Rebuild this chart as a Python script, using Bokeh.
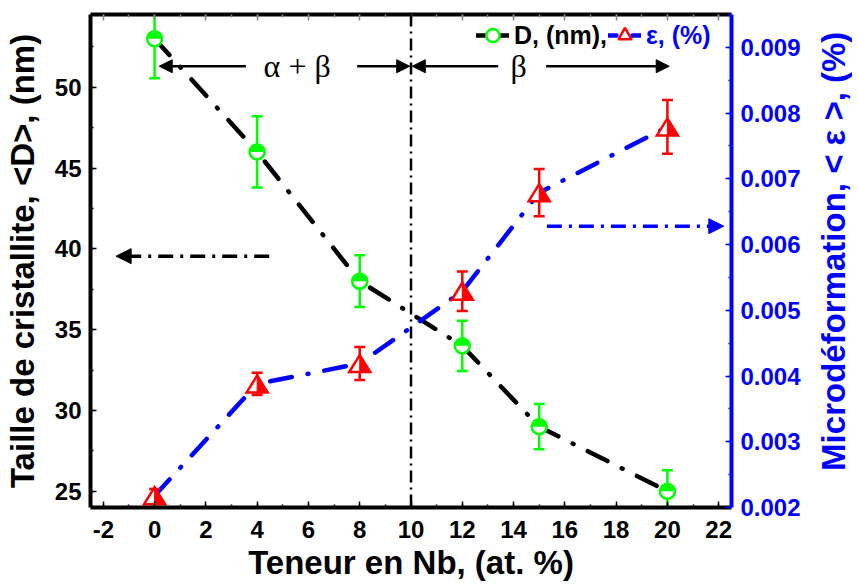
import numpy as np
from bokeh.plotting import figure
from bokeh.layouts import row
from bokeh.models import (Range1d, LinearAxis, FixedTicker, PrintfTickFormatter, Span,
                          Arrow, NormalHead, Label, Legend, LegendItem)
from bokeh.core.properties import value
from bokeh.embed import file_html
from bokeh.resources import INLINE

# ---------------- data ----------------
nb_content = [0, 4, 8, 12, 15, 20]
d_nm = [53.0, 46.0, 38.0, 34.0, 29.0, 25.0]
d_err = [2.45, 2.2, 1.6, 1.55, 1.4, 1.3]
eps_pct = [0.00218, 0.00388, 0.00419, 0.00529, 0.00679, 0.00779]
eps_err = [0.00010, 0.00017, 0.00025, 0.00030, 0.00036, 0.00041]

x_ticks = [-2, 0, 2, 4, 6, 8, 10, 12, 14, 16, 18, 20, 22]
x_minor = list(range(-2, 23))
d_ticks = [25, 30, 35, 40, 45, 50]
d_minor = [25, 27.5, 30, 32.5, 35, 37.5, 40, 42.5, 45, 47.5, 50, 52.5]
eps_ticks = [0.002, 0.003, 0.004, 0.005, 0.006, 0.007, 0.008, 0.009]
eps_minor = [0.002 + 0.0005 * i for i in range(16)]

x_title = "Teneur en Nb, (at. %)"
d_title = "Taille de cristallite, <D>, (nm)"
eps_title = "Microdéformation, < ε >, (%)"

FONT = "Liberation Sans"
GREEN = "#00FF00"
RED = "#FF0000"
BLUE = "#0000FF"

X0, X1 = -2.5, 22.5
Y0, Y1 = 24.0, 54.5
E0, E1 = 0.002, 0.0095
BL, BR, BT, BB = 90, 80, 14, 76
FW, FH = 641, 493
W, H = BL + FW + BR, BT + FH + BB
WR = 41                         # width of the strip holding the right-hand title
PX_X = (X1 - X0) / FW
PX_E = (E1 - E0) / FH

p = figure(width=W, height=H, x_range=Range1d(X0, X1), y_range=Range1d(Y0, Y1),
           output_backend="svg", toolbar_location=None,
           min_border_left=BL, min_border_right=BR, min_border_top=BT, min_border_bottom=BB)
p.extra_y_ranges = {"eps": Range1d(E0, E1)}
p.xgrid.visible = False
p.ygrid.visible = False
p.outline_line_color = None
p.background_fill_color = "white"


def style_axis(ax, color, size="24px"):
    ax.axis_line_width = 4
    ax.axis_line_color = color
    ax.major_tick_in = 6
    ax.major_tick_out = 0
    ax.minor_tick_in = 3
    ax.minor_tick_out = 0
    ax.major_tick_line_color = color
    ax.minor_tick_line_color = color
    ax.major_tick_line_width = 1.5
    ax.minor_tick_line_width = 1.5
    ax.major_label_text_font = FONT
    ax.major_label_text_font_style = "bold"
    ax.major_label_text_font_size = size
    ax.major_label_text_color = color
    ax.axis_label_text_font = FONT
    ax.axis_label_text_font_style = "bold"
    ax.axis_label_text_font_size = "33px"
    ax.axis_label_text_color = color


xa = p.xaxis[0]
style_axis(xa, "black")
xa.ticker = FixedTicker(ticks=x_ticks, minor_ticks=x_minor)
xa.formatter = PrintfTickFormatter(format="%d")
xa.axis_label = x_title
xa.major_label_standoff = 13
xa.axis_label_standoff = 3

ya = p.yaxis[0]
style_axis(ya, "black")
ya.ticker = FixedTicker(ticks=d_ticks, minor_ticks=d_minor)
ya.formatter = PrintfTickFormatter(format="%d")
ya.axis_label = d_title
ya.major_label_standoff = 9
ya.axis_label_standoff = 11

ra = LinearAxis(y_range_name="eps")
style_axis(ra, BLUE)
ra.ticker = FixedTicker(ticks=eps_ticks, minor_ticks=eps_minor)
ra.formatter = PrintfTickFormatter(format="%.3f")
ra.major_label_standoff = 9
p.add_layout(ra, "right")

ta = LinearAxis()
style_axis(ta, "black", size="1px")
ta.ticker = FixedTicker(ticks=x_ticks, minor_ticks=x_minor)
ta.major_label_text_color = None
ta.major_label_standoff = 0
ta.major_tick_line_color = "#888888"
ta.minor_tick_line_color = "#888888"
p.add_layout(ta, "above")

# vertical phase boundary
p.add_layout(Span(location=10, dimension="height", line_color="black", line_width=2.5,
                  line_dash="12 5 2 5"))

# curves
p.line(nb_content, d_nm, line_color="black", line_width=4.5, line_dash="22 16 1 16",
       line_cap="round", line_join="round")
p.line(nb_content, eps_pct, line_color=BLUE, line_width=4.5, line_dash="22 16 1 16",
       line_cap="round", line_join="round", y_range_name="eps")

# error bars
d_lo = [v - e for v, e in zip(d_nm, d_err)]
d_hi = [v + e for v, e in zip(d_nm, d_err)]
e_lo = [v - e for v, e in zip(eps_pct, eps_err)]
e_hi = [v + e for v, e in zip(eps_pct, eps_err)]
p.segment(nb_content, d_lo, nb_content, d_hi, line_color=GREEN, line_width=2.5)
p.scatter(nb_content + nb_content, d_lo + d_hi, marker="dash", size=11, line_color=GREEN, line_width=2.5)
p.segment(nb_content, e_lo, nb_content, e_hi, line_color=RED, line_width=2.5, y_range_name="eps")
p.scatter(nb_content + nb_content, e_lo + e_hi, marker="dash", size=11, line_color=RED, line_width=2.5,
          y_range_name="eps")

# half-filled circles
p.scatter(nb_content, d_nm, marker="circle", size=15, fill_color="white", line_color=GREEN,
          line_width=2.5)
p.wedge(nb_content, d_nm, radius=6.5, radius_units="screen", start_angle=0, end_angle=np.pi,
        fill_color=GREEN, line_color=None)

# half-filled triangles (right half filled)
tw, th = 10.5 * PX_X, 8.5 * PX_E
tri_xs = [[x, x - tw, x + tw] for x in nb_content]
tri_ys = [[y + th, y - th, y - th] for y in eps_pct]
half_xs = [[x, x, x + tw] for x in nb_content]
half_ys = [[y + th, y - th, y - th] for y in eps_pct]
p.patches(tri_xs, tri_ys, fill_color="white", line_color=RED, line_width=2.5,
          line_join="miter", y_range_name="eps")
p.patches(half_xs, half_ys, fill_color=RED, line_color=RED, line_width=1, y_range_name="eps")

# legend-only helpers (not visible in the plot area)
NAN = [float("nan")]
leg_line_d = p.line(NAN, NAN, line_color="black", line_width=4.5, line_dash="8 16", line_cap="round")
leg_circ = p.scatter(NAN, NAN, marker="circle", size=15, fill_color="white", line_color=GREEN,
                     line_width=2.5)
leg_line_e = p.line(NAN, NAN, line_color=BLUE, line_width=4.5, line_dash="8 16", line_cap="round",
                    y_range_name="eps")
leg_tri = p.scatter(NAN, NAN, marker="triangle", size=17, fill_color="white", line_color=RED,
                    line_width=2.5, y_range_name="eps")


def mk_legend(label, rends, loc, color):
    lg = Legend(items=[LegendItem(label=label, renderers=rends)], location=loc,
                orientation="horizontal", glyph_width=33, glyph_height=38, label_standoff=5,
                padding=0, margin=0, border_line_color=None, background_fill_alpha=0,
                label_text_font=FONT, label_text_font_style="bold", label_text_font_size="25px",
                label_text_color=color, label_height=38)
    p.add_layout(lg)


mk_legend("D, (nm),", [leg_line_d, leg_circ], (386, 453), "black")
mk_legend("ε, (%)", [leg_line_e, leg_tri], (518, 453), BLUE)


def arrow(x0, y0, x1, y1, color="black", dash="solid", width=2.5, size=13, rng="default"):
    a = Arrow(end=NormalHead(size=size, fill_color=color, line_color=color, line_width=1),
              x_start=x0, y_start=y0, x_end=x1, y_end=y1, line_color=color, line_width=width,
              line_dash=dash, y_range_name=rng)
    p.add_layout(a)


arrow(3.56, 51.3, 0.18, 51.3)
arrow(7.9, 51.3, 9.95, 51.3)
arrow(13.4, 51.3, 10.05, 51.3)
arrow(15.27, 51.3, 20.07, 51.3)
arrow(4.47, 39.55, -1.5, 39.55, dash="15 7 3 7", width=3.5, size=15)
arrow(15.3, 0.00628, 22.2, 0.00628, color=BLUE, dash="15 7 3 7", width=3.5, size=15, rng="eps")

p.add_layout(Label(x=5.56, y=51.3, text="α + β", text_align="center", text_baseline="middle",
                   text_font="Liberation Serif", text_font_size="32px", text_color="black"))
p.add_layout(Label(x=14.2, y=51.3, text="β", text_align="center", text_baseline="middle",
                   text_font="Liberation Serif", text_font_size="32px", text_color="black"))

# narrow strip to the right carrying the right-axis title (reads bottom to top)
pr = figure(width=WR, height=H, x_range=Range1d(0, WR), y_range=Range1d(0, H),
            output_backend="svg", toolbar_location=None, x_axis_location=None,
            y_axis_location=None, min_border=0)
pr.xgrid.visible = False
pr.ygrid.visible = False
pr.outline_line_color = None
pr.text(x=[WR / 2 + 1], y=[H - 280], text=[eps_title], angle=np.pi / 2, text_align="center",
        text_baseline="middle", text_font=value(FONT), text_font_style="bold",
        text_font_size="33px", text_color=BLUE)

layout = row(p, pr)
open("out.html", "w").write(file_html(layout, INLINE))
